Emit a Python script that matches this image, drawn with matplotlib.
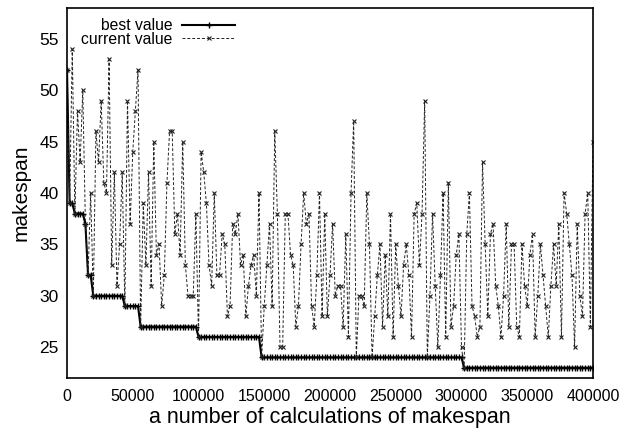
import numpy as np
import matplotlib
matplotlib.use("Agg")
import matplotlib.pyplot as plt

plt.rcParams['font.family'] = ['Liberation Sans', 'DejaVu Sans']

# sampled every 2000 calculations, 0 .. 400000
step = 2000
current_value = [
    52, 39, 54, 38, 48, 43, 50, 37, 32, 40,
    30, 46, 43, 49, 41, 40, 53, 33, 42, 31,
    35, 42, 29, 49, 37, 44, 48, 52, 27, 39,
    33, 42, 31, 45, 34, 35, 29, 32, 41, 46,
    46, 36, 38, 34, 45, 33, 30, 30, 30, 38,
    26, 44, 42, 39, 33, 31, 40, 32, 32, 36,
    35, 28, 29, 37, 36, 38, 33, 34, 28, 31,
    33, 34, 30, 40, 24, 29, 33, 37, 29, 46,
    38, 25, 25, 38, 38, 34, 33, 27, 29, 35,
    40, 37, 38, 29, 27, 32, 40, 28, 38, 28,
    32, 37, 30, 31, 31, 27, 36, 26, 40, 47,
    24, 30, 30, 29, 40, 35, 24, 28, 32, 35,
    27, 34, 28, 38, 26, 35, 31, 28, 33, 35,
    32, 26, 38, 39, 33, 38, 49, 24, 30, 38,
    31, 25, 32, 40, 26, 41, 27, 29, 34, 36,
    25, 23, 36, 40, 29, 28, 26, 27, 43, 35,
    28, 36, 37, 31, 29, 26, 30, 37, 27, 35,
    35, 27, 26, 35, 31, 29, 34, 36, 26, 30,
    35, 32, 29, 26, 31, 35, 31, 37, 26, 40,
    38, 35, 32, 25, 37, 30, 28, 38, 40, 27,
    45,
]
calcs = np.arange(len(current_value)) * step
# best value found so far
best_value = np.minimum.accumulate(current_value)

fig = plt.figure(figsize=(6.38, 4.30), dpi=100)
ax = fig.add_axes([67/638, 1 - 378/430, 526/638, 370/430])

ax.plot(calcs, best_value, color='black', lw=1.5, marker='+', ms=5,
        mew=1.0, label='best value')
ax.plot(calcs, current_value, color='#222222', lw=0.7, ls=(0, (3, 2)),
        marker='x', ms=3.5, mew=0.8, label='current value')

ax.set_xlim(0, 400000)
ax.set_ylim(22, 58)
ax.set_xticks(np.arange(0, 400001, 50000))
ax.set_yticks([25, 30, 35, 40, 45, 50, 55])
ax.tick_params(axis='both', length=0)
ax.tick_params(axis='x', labelsize=11.5, pad=8)
ax.tick_params(axis='y', labelsize=12.5, pad=6)
for s in ax.spines.values():
    s.set_linewidth(1.2)

ax.set_xlabel('a number of calculations of makespan', fontsize=15.5, labelpad=2)
ax.set_ylabel('makespan', fontsize=15, labelpad=6)

ax.legend(loc='upper left', bbox_to_anchor=(0.0, 1.01), frameon=False,
          markerfirst=False, fontsize=11.3, handlelength=3.4,
          handletextpad=0.6, labelspacing=-0.1)

fig.savefig('out.png', dpi=100)
